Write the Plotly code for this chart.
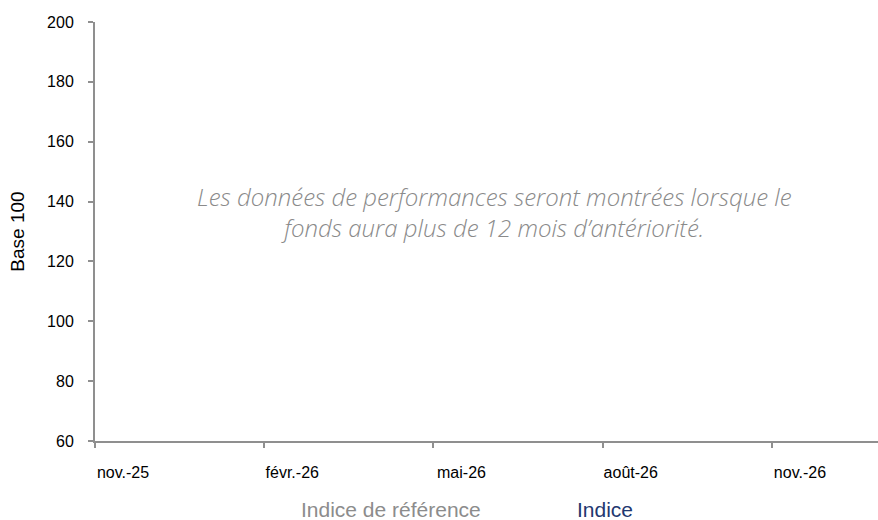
import plotly.graph_objects as go

# Data
month_index = [0, 3, 6, 9, 12]
tick_labels = ["nov.-25", "févr.-26", "mai-26", "août-26", "nov.-26"]
y_ticks = [60, 80, 100, 120, 140, 160, 180, 200]
series_names = ["Indice de référence", "Indice"]
series_colors = ["#8c8c8c", "#1f3870"]
# no performance history yet: series are empty
series_x = [[None], [None]]
series_y = [[None], [None]]
message = ("Les données de performances seront montrées lorsque le<br>"
           "fonds aura plus de 12 mois d’antériorité.")

fig = go.Figure()
for name, col, xs, ys in zip(series_names, series_colors, series_x, series_y):
    fig.add_trace(go.Scatter(
        x=xs, y=ys, mode="lines",
        name=f"<span style='color:{col}'>{name}</span>",
        line=dict(color="rgba(0,0,0,0)", width=0),
        showlegend=True,
    ))

axis_col = "#8f8f8f"
fig.update_layout(
    width=878, height=520,
    margin=dict(l=95, r=0, t=22, b=79, autoexpand=False),
    paper_bgcolor="white", plot_bgcolor="white",
    font=dict(family="Liberation Sans, Arial, sans-serif", size=16, color="#000000"),
    xaxis=dict(
        range=[0, 13.88], tickmode="array", tickvals=month_index, ticktext=tick_labels,
        showgrid=False, zeroline=False, showline=True, linecolor=axis_col, linewidth=2,
        ticks="outside", ticklen=5, tickcolor=axis_col, tickwidth=2,
        ticklabelshift=28, ticklabelstandoff=11, automargin=False,
        tickfont=dict(size=16, color="#000000"),
    ),
    yaxis=dict(
        range=[60, 200], tickmode="array", tickvals=y_ticks,
        showgrid=False, zeroline=False, showline=True, linecolor=axis_col, linewidth=2,
        ticks="outside", ticklen=5, tickcolor=axis_col, tickwidth=2,
        ticklabelstandoff=11, automargin=False,
        tickfont=dict(size=16, color="#000000"),
        title=dict(text="Base 100", font=dict(size=19, color="#000000"), standoff=17),
    ),
    legend=dict(
        orientation="h", xref="container", x=261 / 878, xanchor="left",
        yref="container", y=0.021, yanchor="middle",
        font=dict(size=21),
        itemwidth=30, entrywidth=231, entrywidthmode="pixels",
        bgcolor="rgba(0,0,0,0)",
    ),
    showlegend=True,
)

fig.add_annotation(
    text=message, xref="paper", yref="paper",
    x=(494 - 95) / 783, y=(441 - 212) / 419,
    xanchor="center", yanchor="middle", showarrow=False,
    align="center",
    font=dict(family="Open Sans, sans-serif", size=24, color="#8a8a8a",
              style="italic", weight=300),
)

fig.write_html("out.html", post_script="document.body.style.margin='0';",
               config={"displayModeBar": False})
